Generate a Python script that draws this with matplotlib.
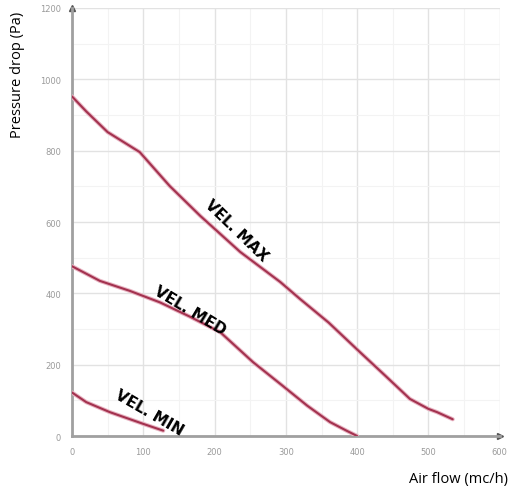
import matplotlib
matplotlib.use("Agg")
import matplotlib.pyplot as plt
import numpy as np

# Data
max_x = [0, 20, 50, 95, 137, 180, 236, 292, 320, 360, 404, 440, 474, 500, 512, 534]
max_y = [952, 910, 852, 796, 701, 617, 516, 432, 384, 318, 235, 168, 104, 76, 67, 47]

med_x = [0, 20, 39, 81, 123, 165, 208, 254, 296, 330, 362, 385, 400]
med_y = [476, 455, 435, 407, 375, 335, 291, 207, 140, 85, 39, 15, 0]

min_x = [0, 20, 53, 100, 128]
min_y = [122, 95, 67, 34, 15]

x_ticks = [0, 100, 200, 300, 400, 500, 600]
y_ticks = [0, 200, 400, 600, 800, 1000, 1200]

labels = ["VEL. MAX", "VEL. MED", "VEL. MIN"]
label_x = [231, 165, 109]
label_y = [578, 353, 67]
label_rot = [-44, -31, -30]

curve_color = "#a3324f"

fig = plt.figure(figsize=(5.11, 4.89), dpi=100)
ax = fig.add_axes([0.1409, 0.1063, 0.978 - 0.1409, 0.9816 - 0.1063])

ax.set_xlim(0, 600)
ax.set_ylim(0, 1200)
ax.set_xticks(x_ticks)
ax.set_yticks(y_ticks)
ax.set_xticks(np.arange(0, 601, 50), minor=True)
ax.set_yticks(np.arange(0, 1201, 100), minor=True)
ax.grid(True, which="major", color="#e2e2e2", linewidth=1.0)
ax.grid(True, which="minor", color="#f3f3f3", linewidth=0.8)
ax.set_axisbelow(True)

ax.tick_params(which="both", length=0, labelsize=6, labelcolor="#9a9a9a", pad=8)

for s in ["top", "right"]:
    ax.spines[s].set_visible(False)
for s in ["left", "bottom"]:
    ax.spines[s].set_color("#a0a0a0")
    ax.spines[s].set_linewidth(2)

ax.plot(0, 1, marker="^", color="#555555", markersize=4, transform=ax.transAxes, clip_on=False)
ax.plot(1, 0, marker=">", color="#555555", markersize=4, transform=ax.transAxes, clip_on=False)

for xs, ys in [(max_x, max_y), (med_x, med_y), (min_x, min_y)]:
    ax.plot(xs, ys, color="#e8b4c2", linewidth=3.0, solid_capstyle="round", zorder=3)
    ax.plot(xs, ys, color=curve_color, linewidth=1.5, solid_capstyle="round", zorder=4)

for t, lx, ly, r in zip(labels, label_x, label_y, label_rot):
    ax.text(lx, ly, t, rotation=r, rotation_mode="anchor", ha="center", va="center",
            fontsize=11, fontweight="bold", family="DejaVu Sans", color="black", zorder=5)

fig.text(18 / 511, 1 - 75 / 489, "Pressure drop (Pa)", rotation=90, ha="center", va="center",
         fontsize=10.5, family="Open Sans", color="black")
fig.text(508 / 511, 1 - 480 / 489, "Air flow (mc/h)", ha="right", va="center",
         fontsize=10.5, family="Open Sans", color="black")

fig.savefig("out.png", dpi=100)
